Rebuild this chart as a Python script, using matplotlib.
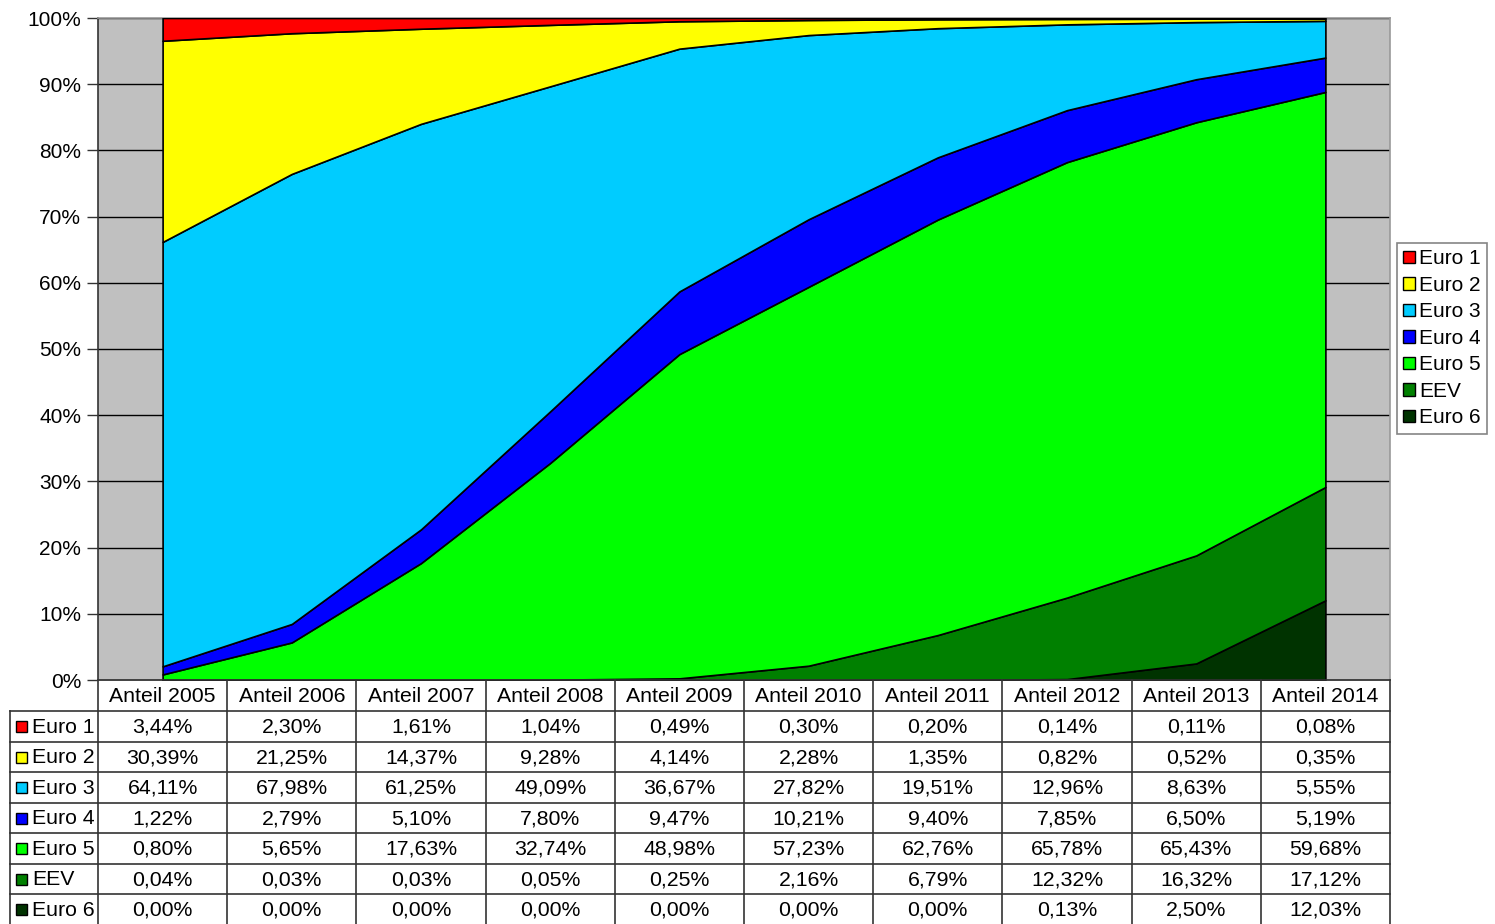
import matplotlib
matplotlib.use("Agg")
import matplotlib.pyplot as plt
from matplotlib.patches import Patch, Rectangle
import numpy as np

plt.rcParams['font.family'] = ['Liberation Sans', 'DejaVu Sans']

years = ["Anteil 2005", "Anteil 2006", "Anteil 2007", "Anteil 2008", "Anteil 2009",
         "Anteil 2010", "Anteil 2011", "Anteil 2012", "Anteil 2013", "Anteil 2014"]
series_names = ["Euro 1", "Euro 2", "Euro 3", "Euro 4", "Euro 5", "EEV", "Euro 6"]
euro1 = [3.44, 2.30, 1.61, 1.04, 0.49, 0.30, 0.20, 0.14, 0.11, 0.08]
euro2 = [30.39, 21.25, 14.37, 9.28, 4.14, 2.28, 1.35, 0.82, 0.52, 0.35]
euro3 = [64.11, 67.98, 61.25, 49.09, 36.67, 27.82, 19.51, 12.96, 8.63, 5.55]
euro4 = [1.22, 2.79, 5.10, 7.80, 9.47, 10.21, 9.40, 7.85, 6.50, 5.19]
euro5 = [0.80, 5.65, 17.63, 32.74, 48.98, 57.23, 62.76, 65.78, 65.43, 59.68]
eev = [0.04, 0.03, 0.03, 0.05, 0.25, 2.16, 6.79, 12.32, 16.32, 17.12]
euro6 = [0.00, 0.00, 0.00, 0.00, 0.00, 0.00, 0.00, 0.13, 2.50, 12.03]
colors = ["#FF0000", "#FFFF00", "#00CCFF", "#0000FF", "#00FF00", "#008000", "#003300"]

data = [euro1, euro2, euro3, euro4, euro5, eev, euro6]

W, H = 1495, 924
fig = plt.figure(figsize=(W / 100, H / 100), dpi=100)

L, R, T, B = 98, 1390, 18, 680
ax = fig.add_axes([L / W, 1 - B / H, (R - L) / W, (B - T) / H])
ax.set_facecolor("#C0C0C0")
x = np.arange(len(years))
# stack from bottom: Euro 6 ... Euro 1
ax.stackplot(x, *[np.array(d) / 100 for d in data[::-1]], colors=colors[::-1],
             edgecolor="black", linewidth=1.2, zorder=3)
ax.set_xlim(-0.5, len(years) - 0.5)
ax.set_ylim(0, 1)
ax.set_yticks(np.arange(0, 1.01, 0.1))
ax.set_yticklabels([f"{int(round(v * 100))}%" for v in np.arange(0, 1.01, 0.1)], fontsize=15)
ax.yaxis.grid(True, color="black", linewidth=1.0, zorder=1)
ax.set_axisbelow(True)
ax.set_xticks([])
ax.tick_params(axis="y", length=8, width=1, color="#333333", pad=4)
for s in ["top", "right", "bottom"]:
    ax.spines[s].set_color("#999999")
    ax.spines[s].set_linewidth(1.2)
ax.spines["left"].set_color("#333333")
ax.spines["left"].set_linewidth(1.2)

# legend
handles = [Patch(facecolor=c, edgecolor="black", linewidth=1.0) for c in colors]
leg = fig.legend(handles, series_names, loc="upper left",
                 bbox_to_anchor=(1397 / W, 1 - 243 / H), fontsize=15,
                 frameon=True, fancybox=False, edgecolor="#666666",
                 handlelength=0.55, handleheight=0.55, handletextpad=0.2,
                 labelspacing=0.36, borderpad=0.3, borderaxespad=0)
leg.get_frame().set_linewidth(1.2)

# data table
ov = fig.add_axes([0, 0, 1, 1])
ov.set_xlim(0, W)
ov.set_ylim(H, 0)
ov.axis("off")
colw = (R - L) / len(years)
row_tops = [680, 711] + [711 + 30.5 * (i + 1) for i in range(len(series_names))]
lc = "#333333"
lw = 1.2
# horizontal lines
ov.plot([L, R], [row_tops[0], row_tops[0]], color=lc, lw=lw)
for yy in row_tops[1:]:
    ov.plot([10, R], [yy, yy], color=lc, lw=lw)
# vertical lines
for i in range(len(years) + 1):
    xx = L + i * colw
    ov.plot([xx, xx], [row_tops[0], row_tops[-1]], color=lc, lw=lw)
ov.plot([10, 10], [row_tops[1], row_tops[-1]], color=lc, lw=lw)

for i, yl in enumerate(years):
    ov.text(L + (i + 0.5) * colw, (row_tops[0] + row_tops[1]) / 2 + 1, yl,
            ha="center", va="center", fontsize=15.3)
for r, (name, vals, c) in enumerate(zip(series_names, data, colors)):
    yc = (row_tops[r + 1] + row_tops[r + 2]) / 2 + 1
    ov.add_patch(Rectangle((16, yc - 6), 11, 11, facecolor=c, edgecolor="black", lw=1.0))
    ov.text(32, yc, name, ha="left", va="center", fontsize=15.3)
    for i, v in enumerate(vals):
        ov.text(L + (i + 0.5) * colw, yc, f"{v:.2f}%".replace(".", ","),
                ha="center", va="center", fontsize=15.3)

fig.savefig("out.png", dpi=100)
